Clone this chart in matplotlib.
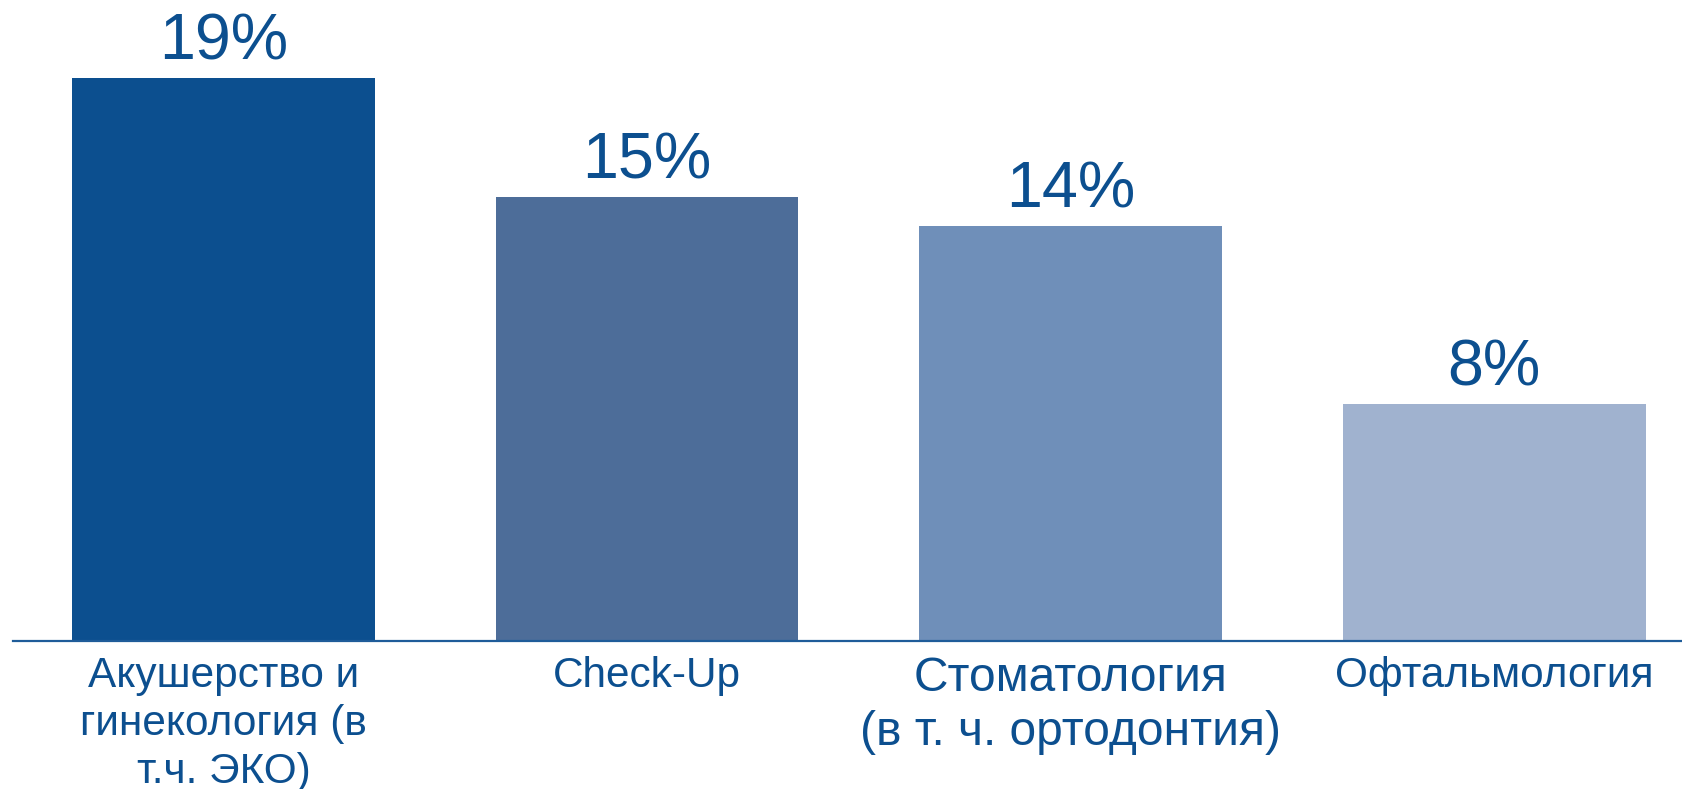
import matplotlib.pyplot as plt

# данные
kategorii = ["Акушерство и\nгинекология (в\nт.ч. ЭКО)", "Check-Up",
             "Стоматология\n(в т. ч. ортодонтия)", "Офтальмология"]
znacheniya = [19, 15, 14, 8]
podpisi = ["19%", "15%", "14%", "8%"]
cveta = ["#0c4f8f", "#4d6d99", "#6f8fb9", "#a0b2cf"]

plt.rcParams['font.family'] = ['Liberation Sans', 'DejaVu Sans']
tekst_cvet = "#0c4f8f"

fig = plt.figure(figsize=(16.83, 7.89), dpi=100)
ax = fig.add_axes([13 / 1683, 148 / 789, 1 - 13 / 1683, 1 - 148 / 789])

x = list(range(len(kategorii)))
bars = ax.bar(x, znacheniya, width=0.715, color=cveta)

for b, t in zip(bars, podpisi):
    ax.annotate(t, (b.get_x() + b.get_width() / 2, b.get_height()),
                xytext=(0, 13.5), textcoords="offset points",
                ha="center", va="baseline", fontsize=46.5, color=tekst_cvet)

ax.set_xlim(-0.497, 3.446)
ax.set_ylim(0, 21.65)
ax.set_xticks(x)
ax.set_xticklabels(kategorii, fontsize=30.5, color=tekst_cvet, linespacing=1.25)
ax.get_xticklabels()[2].set_fontsize(34.5)  # у стоматологии шрифт крупнее
ax.tick_params(axis="x", length=0, pad=11)
ax.set_yticks([])
for s in ["top", "right", "left"]:
    ax.spines[s].set_visible(False)
ax.spines["bottom"].set_color("#1f5c99")
ax.spines["bottom"].set_linewidth(1.6)

fig.savefig("out.png", dpi=100)
